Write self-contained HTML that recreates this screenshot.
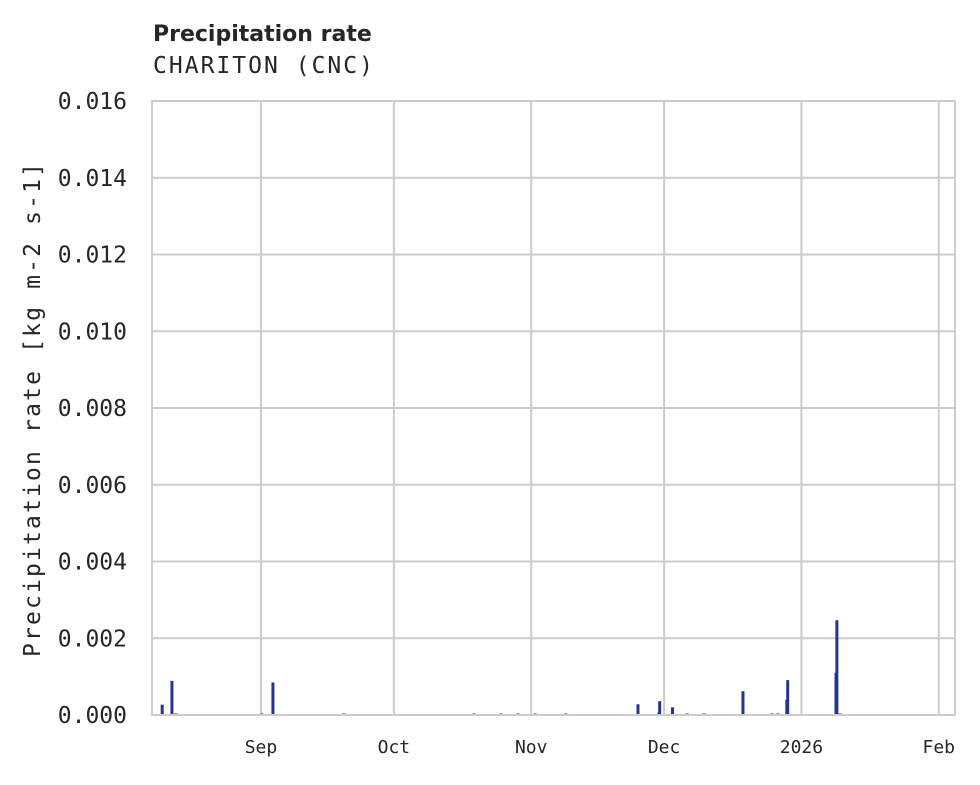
<!DOCTYPE html>
<html><head><meta charset="utf-8"><style>
html,body{margin:0;padding:0;background:#fff;}
svg text{fill:#262626;}
.mono{font-family:"DejaVu Sans Mono","Liberation Mono",monospace;}
</style></head><body>
<svg id="chart" width="980" height="780" xmlns="http://www.w3.org/2000/svg">
<text x="153" y="41" style="font-family:'DejaVu Sans','Liberation Sans',sans-serif;font-weight:bold;font-size:22px;">Precipitation rate</text>
<text x="153" y="73" class="mono" textLength="220" style="font-size:23px;">CHARITON (CNC)</text>
<g id="grid"></g>
<g id="bars"></g>
<rect x="152" y="101" width="803" height="614" fill="none" stroke="#cccccc" stroke-width="2"/>
<g id="yticks"></g>
<g id="xticks"></g>
<text transform="translate(40,410) rotate(-90)" text-anchor="middle" class="mono" textLength="494" style="font-size:23px;">Precipitation rate [kg m-2 s-1]</text>
</svg>
<script>
// days relative to Sep 1
const barDays = [-22.3,-20.1,-19.2,0.2,2.7,18.7,48.1,54.2,58.0,61.9,68.8,85.1,89.8,90.0,92.9,96.2,100.0,108.8,115.4,116.7,118.7,118.9,129.8,130.0,130.7];
const barValues = [0.00027,0.00089,0.00004,0.00004,0.00085,0.00004,0.00004,0.00004,0.00004,0.00004,0.00004,0.00028,0.00006,0.00036,0.0002,0.00004,0.00004,0.00062,0.00004,0.00004,0.0004,0.00091,0.0011,0.00247,0.00004];
const yTicks = [0,0.002,0.004,0.006,0.008,0.010,0.012,0.014,0.016];
const xTickDays = [0,30,61,91,122,153];
const xTickLabels = ["Sep","Oct","Nov","Dec","2026","Feb"];

const NS="http://www.w3.org/2000/svg";
const x0=152,x1=955,y0=715,y1=101;
const dayMin=-24.6, pxPerDay=4.43;
function xs(d){return x0+(d-dayMin)*pxPerDay;}
function ys(v){return y0-(v/0.016)*(y0-y1);}
function mk(tag,attrs,parent){const e=document.createElementNS(NS,tag);for(const k in attrs)e.setAttribute(k,attrs[k]);parent.appendChild(e);return e;}
const grid=document.getElementById('grid'),bars=document.getElementById('bars'),yt=document.getElementById('yticks'),xt=document.getElementById('xticks');
yTicks.forEach(v=>{
  const y=ys(v);
  const l=mk('line',{x1:x0,x2:x1,y1:y,y2:y,stroke:'#cccccc','stroke-width':2},grid);
  
  
  const t=mk('text',{x:127,y:y+8,'text-anchor':'end','class':'mono','style':'font-size:23px'},yt);
  t.textContent=v.toFixed(3);
  
  
});
xTickDays.forEach((d,i)=>{
  const x=xs(d);
  const l=mk('line',{x1:x,x2:x,y1:y1,y2:y0,stroke:'#cccccc','stroke-width':2},grid);
  
  
  const t=mk('text',{x:x,y:753,'text-anchor':'middle','class':'mono','style':'font-size:18px'},xt);
  t.textContent=xTickLabels[i];
  
  
});
barDays.forEach((d,i)=>{
  const x=xs(d), y=ys(barValues[i]);
  const r=mk('rect',{x:x-1.5,y:y,width:3,height:Math.max(1.5,y0-y),fill:'#25348f'},bars);
  
  
});
</script>
</body></html>
